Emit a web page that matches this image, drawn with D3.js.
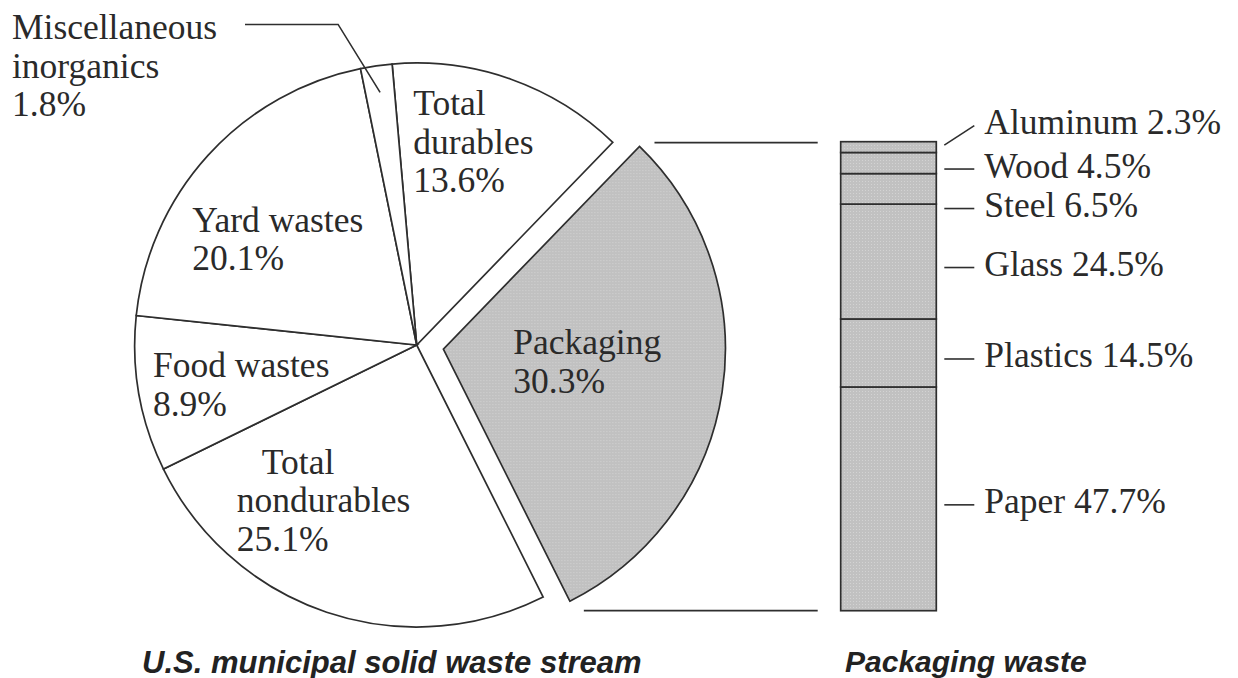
<!DOCTYPE html>
<html>
<head>
<meta charset="utf-8">
<script src="https://cdn.jsdelivr.net/npm/d3@7/dist/d3.min.js"></script>
<style>
  html, body { margin: 0; padding: 0; background: #ffffff; }
  svg { display: block; }
  .lbl { font-family: "Liberation Serif", "Times New Roman", serif; font-size: 35.5px; fill: #2a2a2a; }
  .ttl { font-family: "Liberation Sans", Arial, sans-serif; font-weight: bold; font-style: italic; fill: #222222; }
</style>
</head>
<body>
<script>
// ---- data ----
const wasteCategories = ["Total durables", "Packaging", "Total nondurables", "Food wastes", "Yard wastes", "Miscellaneous inorganics"];
const wasteValues = [13.6, 30.3, 25.1, 8.9, 20.1, 1.8];
const wasteLabelLines = [["Total", "durables"], ["Packaging"], ["Total", "nondurables"], ["Food wastes"], ["Yard wastes"], ["Miscellaneous", "inorganics"]];

const packagingParts = ["Paper", "Plastics", "Glass", "Steel", "Wood", "Aluminum"];
const packagingValues = [47.7, 14.5, 24.5, 6.5, 4.5, 2.3];

const chartTitles = ["U.S. municipal solid waste stream", "Packaging waste"];

// ---- layout ----
const W = 1238, H = 678;
const deg = Math.PI / 180;
const cx = 416.7, cy = 345, R = 282, explode = 27;
const stroke = "#2e2e2e";

const svg = d3.select("body").append("svg").attr("width", W).attr("height", H);
svg.append("rect").attr("width", W).attr("height", H).attr("fill", "#ffffff");

const defs = svg.append("defs");
const pat = defs.append("pattern").attr("id", "stipple").attr("patternUnits", "userSpaceOnUse")
  .attr("width", 3).attr("height", 3);
pat.append("rect").attr("width", 3).attr("height", 3).attr("fill", "#c1c1c1");
pat.append("rect").attr("x", 1).attr("y", 1).attr("width", 1).attr("height", 1).attr("fill", "#d3d3d3");

const polar = (a, r) => [r * Math.sin(a), -r * Math.cos(a)];
const fmt = v => v.toFixed(1) + "%";

// ---- pie ----
const pieData = wasteCategories.map((c, i) => ({ name: c, value: wasteValues[i], lines: wasteLabelLines[i] }));
const pie = d3.pie().sort(null).value(d => d.value).startAngle(-5 * deg).endAngle(355 * deg);
const arc = d3.arc().innerRadius(0).outerRadius(R);
const arcs = pie(pieData);

const pieG = svg.append("g").attr("transform", `translate(${cx},${cy})`);
arcs.forEach(a => {
  a.mid = (a.startAngle + a.endAngle) / 2;
  a.off = a.data.name === "Packaging" ? polar(a.mid, explode) : [0, 0];
});

pieG.selectAll("path.slice").data(arcs).join("path")
  .attr("class", "slice")
  .attr("transform", d => `translate(${d.off[0]},${d.off[1]})`)
  .attr("d", arc)
  .attr("fill", d => d.data.name === "Packaging" ? "url(#stipple)" : "#ffffff")
  .attr("stroke", stroke).attr("stroke-width", 1.7).attr("stroke-linejoin", "miter");

// label placement relative to each slice's centroid (annotation layout)
const labelR = 178;
const labelOffsets = {
  "Total durables": { dx: -63, dy: -62, indent: [0, 0, 0] },
  "Packaging": { dx: -106, dy: -22, indent: [0, 0] },
  "Total nondurables": { dx: -123, dy: -40, indent: [25, 0, 0] },
  "Food wastes": { dx: -88.5, dy: 1, indent: [0, 0] },
  "Yard wastes": { dx: -92.6, dy: 6.3, indent: [0, 0] }
};
const lineH = 38.5;

arcs.forEach(a => {
  const o = labelOffsets[a.data.name];
  if (!o) return;
  const c = polar(a.mid, labelR);
  const x0 = c[0] + a.off[0] + o.dx, y0 = c[1] + a.off[1] + o.dy;
  const lines = a.data.lines.concat([fmt(a.data.value)]);
  const t = pieG.append("text").attr("class", "lbl");
  lines.forEach((ln, i) => {
    t.append("tspan").attr("x", x0 + (o.indent[i] || 0)).attr("y", y0 + i * lineH).text(ln);
  });
});

// miscellaneous inorganics: outside label with leader line
const misc = arcs.find(a => a.data.name === "Miscellaneous inorganics");
{
  const end = polar(misc.mid, R * 0.905);
  const mx = cx + end[0], my = cy + end[1];
  const elbow = [mx - 42, my - 68];
  const leaderStartX = 245;
  svg.append("path")
    .attr("d", `M${leaderStartX},${elbow[1]}L${elbow[0]},${elbow[1]}L${mx},${my}`)
    .attr("fill", "none").attr("stroke", stroke).attr("stroke-width", 1.6);
  const lines = misc.data.lines.concat([fmt(misc.data.value)]);
  const t = svg.append("text").attr("class", "lbl");
  lines.forEach((ln, i) => t.append("tspan").attr("x", 12).attr("y", 39 + i * lineH).text(ln));
}

// ---- stacked packaging bar ----
const y = d3.scaleLinear().domain([0, 100]).range([610.7, 141.7]);
const x = d3.scaleBand().domain([chartTitles[1]]).range([840.7, 936.3]).padding(0);
const cum = d3.cumsum(packagingValues);
const segs = packagingParts.map((p, i) => ({ name: p, value: packagingValues[i], y0: cum[i] - packagingValues[i], y1: cum[i] }));

const barG = svg.append("g");
barG.selectAll("rect.seg").data(segs).join("rect")
  .attr("class", "seg")
  .attr("x", x(chartTitles[1])).attr("width", x.bandwidth())
  .attr("y", d => y(d.y1)).attr("height", d => y(d.y0) - y(d.y1))
  .attr("fill", "url(#stipple)")
  .attr("stroke", stroke).attr("stroke-width", 1.7);

// connector lines from exploded slice to bar
const pk = arcs.find(a => a.data.name === "Packaging");
const pTop = polar(pk.startAngle, R), pBot = polar(pk.endAngle, R);
const barLeft = x(chartTitles[1]);
svg.append("line")
  .attr("x1", cx + pk.off[0] + pTop[0] + 15).attr("x2", barLeft - 23)
  .attr("y1", y(100) + 1).attr("y2", y(100) + 1)
  .attr("stroke", stroke).attr("stroke-width", 1.7);
svg.append("line")
  .attr("x1", cx + pk.off[0] + pBot[0] + 14).attr("x2", barLeft - 23)
  .attr("y1", y(0)).attr("y2", y(0))
  .attr("stroke", stroke).attr("stroke-width", 1.7);

// bar labels: topmost label lifted above the bar (diagonal leader), others pushed down to keep spacing
segs.forEach(s => { s.cy = y((s.y0 + s.y1) / 2); });
const order = segs.slice().reverse(); // top to bottom
const gap = 39.5;
order.forEach((s, i) => {
  s.top = i === 0;
  if (s.top) s.ly = y(100) - 16;
  else s.ly = Math.max(s.cy + 6, order[i - 1].ly + gap);
});
const lx0 = x(chartTitles[1]) + x.bandwidth() + 8, lx1 = lx0 + 30;
segs.forEach(s => {
  const startY = s.top ? s.cy - 2 : s.ly;
  svg.append("line")
    .attr("x1", lx0).attr("y1", startY).attr("x2", lx1).attr("y2", s.ly)
    .attr("stroke", stroke).attr("stroke-width", 1.6);
  svg.append("text").attr("class", "lbl")
    .attr("x", lx1 + 10).attr("y", s.ly + 8.5)
    .text(`${s.name} ${fmt(s.value)}`);
});

// ---- titles ----
svg.append("text").attr("class", "ttl").attr("font-size", 31)
  .attr("x", 142).attr("y", 672.5).text(chartTitles[0]);
svg.append("text").attr("class", "ttl").attr("font-size", 30)
  .attr("x", 845).attr("y", 671.5).text(chartTitles[1]);
</script>
</body>
</html>
